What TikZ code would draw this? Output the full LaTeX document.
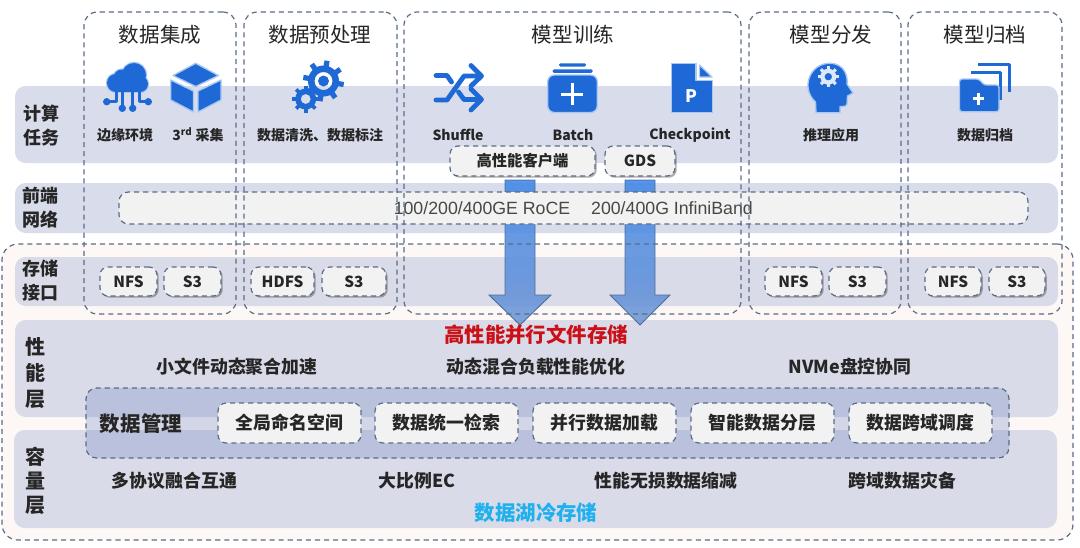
\documentclass[tikz,border=0pt]{standalone}
\usepackage{fontspec}
\setmainfont{Noto Sans CJK SC}
\newfontfamily\arialfont{Liberation Sans}
\usetikzlibrary{shadows,calc}
\definecolor{bandc}{HTML}{D8DCEB}
\definecolor{bandd}{HTML}{D9DBE8}
\definecolor{outerc}{HTML}{FDF8F6}
\definecolor{dashc}{HTML}{5B6C88}
\definecolor{iconc}{HTML}{1F69D6}
\definecolor{iconh}{HTML}{A9C8F2}
\definecolor{txt}{HTML}{262626}
\definecolor{boxc}{HTML}{F2F2F2}
\definecolor{mgmtc}{HTML}{677EC1}
\definecolor{arrowtop}{HTML}{3F86E6}
\definecolor{arrowbot}{HTML}{6F96D6}
\definecolor{arrowline}{HTML}{44638F}
\definecolor{coldc}{HTML}{1FB0EE}
\definecolor{hotc}{HTML}{CC1018}
\newcommand{\fsz}[1]{\fontsize{#1}{#1}\selectfont}
\tikzset{
  band/.style={fill=#1,draw=none,rounded corners=8pt},
  dashline/.style={draw=dashc,line width=0.9pt,dash pattern=on 3.8pt off 3pt},
  pos/.style args={#1 #2 #3 #4}{anchor=north west,at={(#1,#2)},minimum width={(#3-#1)*0.75pt},minimum height={(#4-#2)*0.75pt},inner sep=0pt,outer sep=0pt},
  region/.style={dashline,rounded corners=10pt},
  softbox/.style={dashline,fill=boxc,rounded corners=6pt,text=txt,font=\fsz{11.5}\bfseries},
  shadowbox/.style={softbox,drop shadow={shadow xshift=1.3pt,shadow yshift=-1.3pt,fill=black!70,opacity=.45}},
  title/.style={inner sep=0pt,text=txt,font=\fsz{15.4}},
  small/.style={inner sep=0pt,text=txt,font=\fsz{10.5}\bfseries},
  row/.style={inner sep=0pt,text=txt,font=\fsz{13.4}\bfseries},
  side/.style={inner sep=0pt,text=txt,font=\fsz{14}\bfseries},
  sidebig/.style={inner sep=0pt,text=txt,font=\fsz{15}\bfseries},
  ico/.style={fill=iconc,draw=iconh,line width=1pt,line join=round},
  icol/.style={draw=iconc,line width=#1,line cap=round,line join=round},
  blockarrow/.style={draw=arrowline,line width=.7pt,top color=arrowtop,bottom color=arrowbot,opacity=.88},
}
\begin{document}
\begin{tikzpicture}[x=0.75pt,y=-0.75pt]
\useasboundingbox (0,0) rectangle (1080,547);
\fill[white] (0,0) rectangle (1080,547);
% outer storage fill
\node[pos=2 244 1073 540,fill=outerc,rounded corners=12pt] (outerfill) {};
% layer bands
\node[pos=15 86 1058 163,band=bandc] (bandcalc) {};
\node[pos=15 183 1058 233,band=bandc] (bandnet) {};
\node[pos=15 257 1058 306,band=bandd] (bandif) {};
\node[pos=15 320 1058 417,band=bandd] (bandperf) {};
\node[pos=14 430 1057 528,band=bandd] (bandcap) {};
% data management
\node[pos=86 388 1009 458,dashline,fill=mgmtc,fill opacity=.28,rounded corners=8pt] (mgmt) {};
% arrows
\coordinate (a1top) at (520,180);
\coordinate (a1tip) at (520,325);
\coordinate (a2top) at (640,180);
\coordinate (a2tip) at (640,325);
\path[blockarrow] ($(a1top)+(-15,0)$) -- ($(a1top)+(15,0)$) -- ($(a1tip)+(15,-30)$) -- ($(a1tip)+(31,-30)$) -- (a1tip) -- ($(a1tip)+(-31,-30)$) -- ($(a1tip)+(-15,-30)$) -- cycle;
\path[blockarrow] ($(a2top)+(-15,0)$) -- ($(a2top)+(15,0)$) -- ($(a2tip)+(15,-30)$) -- ($(a2tip)+(30,-30)$) -- (a2tip) -- ($(a2tip)+(-30,-30)$) -- ($(a2tip)+(-15,-30)$) -- cycle;
% network bar
\node[pos=119 192 1028 224,dashline,fill=boxc,rounded corners=7pt] (netbar) {};
\node[inner sep=0pt,text=black!72,font={\arialfont\fsz{13.3}}] (roce) at (482,208) {100/200/400GE RoCE};
\node[inner sep=0pt,text=black!72,font={\arialfont\fsz{13.3}}] (ib) at (672,208) {200/400G InfiniBand};
% outer dashed + columns
\node[pos=2 244 1073 540,dashline,rounded corners=12pt] (outerdash) {};
\node[pos=84 12 236 314,region] (col1) {};
\node[pos=244 12 397 314,region] (col2) {};
\node[pos=404 12 741 314,region] (col3) {};
\node[pos=749 12 901 314,region] (col4) {};
\node[pos=908 12 1062 314,region] (col5) {};
% titles
\node[title] (t1) at (160,35) {数据集成};
\node[title] (t2) at (320,35) {数据预处理};
\node[title] (t3) at (573,35) {模型训练};
\node[title] (t4) at (831,35) {模型分发};
\node[title] (t5) at (985,35) {模型归档};
% side labels
\node[side,align=center] (s1) at (41,126) {\fsz{13.5}计算\\[4pt]\fsz{13.5}任务};
\node[side,align=center] (s2) at (40,208) {\fsz{13.5}前端\\[4pt]\fsz{13.5}网络};
\node[side,align=center] (s3) at (40,281) {\fsz{13.5}存储\\[4pt]\fsz{13.5}接口};
\node[sidebig] (p1) at (36,347) {性};
\node[sidebig] (p2) at (36,373) {能};
\node[sidebig] (p3) at (36,399) {层};
\node[sidebig] (c1) at (36,457) {容};
\node[sidebig] (c2) at (36,481) {量};
\node[sidebig] (c3) at (36,505) {层};
% icon: cloud
\foreach \c/\r in {{(116,83)}/9,{(122,78)}/8.5,{(134,75)}/12,{(140,84)}/8}{\fill[iconh] \c circle[radius=\r+1.2];}
\fill[iconh] (114,80) rectangle (142,93.2);
\foreach \c/\r in {{(116,83)}/9,{(122,78)}/8.5,{(134,75)}/12,{(140,84)}/8}{\fill[iconc] \c circle[radius=\r];}
\fill[iconc] (116,78) rectangle (140,92);
\draw[icol=2pt] (116.7,90) -- (116.7,101.7) -- (106.7,101.7);
\draw[icol=2pt] (122.3,90) -- (122.3,108.3);
\draw[icol=2pt] (132.7,90) -- (132.7,108.3);
\draw[icol=2pt] (139.3,90) -- (139.3,101.7) -- (148.3,101.7);
\foreach \p in {(106.7,101.7),(122.3,108.3),(132.7,108.3),(148.3,101.7)} \fill[iconc] \p circle[radius=3.7];
% icon: cube
\path[ico] (195.7,63.3) -- (218.5,75.5) -- (195.7,86.5) -- (173,75.5) -- cycle;
\path[ico] (170.7,80) -- (193.5,91) -- (193.5,112) -- (170.7,100) -- cycle;
\path[ico] (198,91) -- (221,80) -- (221,100) -- (198,112) -- cycle;
% icon: gears
\foreach \a in {0,45,...,315} \draw[iconc,line width=3.9pt] ($(323.5,81)+(\a+10:12)$) -- ($(323.5,81)+(\a+10:20.5)$);
\fill[iconc,even odd rule] (323.5,81) circle[radius=15.5] (323.5,81) circle[radius=9];
\fill[iconc] (323.5,81) circle[radius=5.5];
\foreach \a in {0,45,...,315} \draw[iconc,line width=2.8pt] ($(305.7,99)+(\a:8)$) -- ($(305.7,99)+(\a:13.5)$);
\fill[iconc,even odd rule] (305.7,99) circle[radius=10.5] (305.7,99) circle[radius=5];
% icon: shuffle
\draw[icol=3.6pt] (436,100) -- (447,100) -- (464,76) -- (478,76);
\draw[icol=3.6pt] (436,75.5) -- (447,75.5) -- (451.5,82);
\draw[icol=3.6pt] (458.5,92) -- (464,99.5) -- (478,99.5);
\draw[icol=3.6pt] (471,65.5) -- (481.5,76) -- (471,86);
\draw[icol=3.6pt] (471,89) -- (481.5,99.5) -- (471,110);
% icon: batch
\path[ico,rounded corners=5pt] (547.7,75) rectangle (597.3,112.5);
\fill[iconc,rounded corners=1pt] (552.7,69.3) rectangle (592.7,72.8);
\fill[iconc,rounded corners=1pt] (559,63.3) rectangle (586,66.5);
\fill[white] (570.9,83) rectangle (573.8,105);
\fill[white] (561.3,92.5) rectangle (583.3,95.5);
% icon: doc
\path[ico] (671.7,63.3) -- (696,63.3) -- (696,80.5) -- (712.7,80.5) -- (712.7,112.7) -- (671.7,112.7) -- cycle;
\path[ico] (699.5,65) -- (712,77) -- (699.5,77) -- cycle;
\node[inner sep=0pt,text=white,font=\fsz{13}\bfseries] (pchar) at (691.7,96) {P};
% icon: head
\path[ico] (816,112.7) -- (815.5,102) .. controls (800,88) and (810,63) .. (830,63.3) .. controls (845,63.5) and (848,77) .. (847,84) -- (853,93) -- (847.5,96) -- (847,104) .. controls (846.5,107) and (843,106.5) .. (840,106.5) -- (840,112.7) -- cycle;
\foreach \a in {0,45,...,315} \draw[white!85!iconc,line width=2.4pt] ($(828.3,76.7)+(\a:5)$) -- ($(828.3,76.7)+(\a:10.5)$);
\fill[white!85!iconc,even odd rule] (828.3,76.7) circle[radius=8] (828.3,76.7) circle[radius=3.8];
% icon: folder
\draw[icol=2.6pt,line cap=butt] (978,64.5) -- (1009.5,64.5) -- (1009.5,92);
\draw[icol=2.6pt,line cap=butt] (971,72.5) -- (1000.5,72.5) -- (1000.5,100);
\path[ico,rounded corners=2pt] (959.5,79) -- (979,79) -- (984,85) -- (999,85) -- (999,111.7) -- (959.5,111.7) -- cycle;
\fill[white] (977.2,93) rectangle (980.2,104.5);
\fill[white] (973,97.3) rectangle (984.4,100.3);
% icon labels
\node[small] (l1) at (125,135) {边缘环境};
\node[small] (l2) at (198,135) {3\textsuperscript{rd} 采集};
\node[small] (l3) at (320,135) {数据清洗、数据标注};
\node[small] (l4) at (458,135) {Shuffle};
\node[small] (l5) at (573,135) {Batch};
\node[small] (l6) at (690,135) {Checkpoint};
\node[small] (l7) at (831,135) {推理应用};
\node[small] (l8) at (985,135) {数据归档};
% clients
\node[pos=450 146 595 176,shadowbox] (client) {高性能客户端};
\node[pos=605 146 675 176,shadowbox] (gds) {GDS};
% interfaces
\node[pos=100 267 157 296,shadowbox] (nfs1) {NFS};
\node[pos=164 267 221 296,shadowbox] (s31) {S3};
\node[pos=251 267 314 296,shadowbox] (hdfs) {HDFS};
\node[pos=322 267 386 296,shadowbox] (s32) {S3};
\node[pos=765 267 822 296,shadowbox] (nfs2) {NFS};
\node[pos=829 267 886 296,shadowbox] (s33) {S3};
\node[pos=925 267 981 296,shadowbox] (nfs3) {NFS};
\node[pos=989 267 1045 296,shadowbox] (s34) {S3};
% performance
\node[inner sep=0pt,text=hotc,font=\fsz{15.3}\bfseries] (hp) at (536,335) {高性能并行文件存储};
\node[row] (r1) at (237,367) {小文件动态聚合加速};
\node[row] (r2) at (536,367) {动态混合负载性能优化};
\node[row] (r3) at (850,367) {NVMe盘控协同};
% management
\node[inner sep=0pt,text=txt,font=\fsz{15.4}\bfseries] (mg) at (141,424) {数据管理};
\node[pos=218 403 361 443,softbox,font=\fsz{13.4}\bfseries] (m1) {全局命名空间};
\node[pos=375 403 518 443,softbox,font=\fsz{13.4}\bfseries] (m2) {数据统一检索};
\node[pos=533 403 676 443,softbox,font=\fsz{13.4}\bfseries] (m3) {并行数据加载};
\node[pos=691 403 834 443,softbox,font=\fsz{13.4}\bfseries] (m4) {智能数据分层};
\node[pos=849 403 992 443,softbox,font=\fsz{13.4}\bfseries] (m5) {数据跨域调度};
% capacity
\node[row] (k1) at (174.5,481) {多协议融合互通};
\node[row] (k2) at (417,481) {大比例EC};
\node[row] (k3) at (666,481) {性能无损数据缩减};
\node[row] (k4) at (902.5,481) {跨域数据灾备};
\node[inner sep=0pt,text=coldc,font=\fsz{15.3}\bfseries] (cold) at (536,513) {数据湖冷存储};
\end{tikzpicture}
\end{document}
